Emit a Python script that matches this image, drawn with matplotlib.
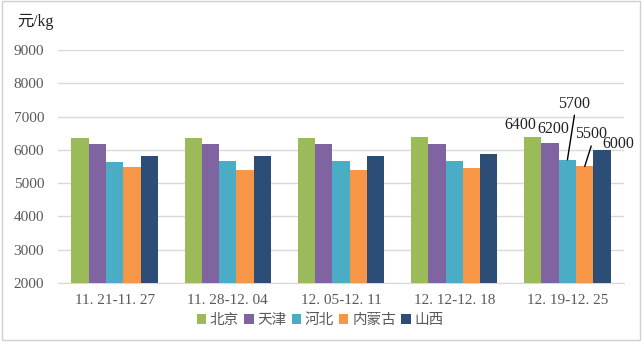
import matplotlib

matplotlib.use("Agg")
import matplotlib.pyplot as plt
import numpy as np
from matplotlib.patches import Rectangle

plt.rcParams["font.family"] = ["Liberation Serif", "Noto Sans CJK SC"]

weeks = ["11. 21-11. 27", "11. 28-12. 04", "12. 05-12. 11", "12. 12-12. 18", "12. 19-12. 25"]
regions = ["北京", "天津", "河北", "内蒙古", "山西"]
colors = ["#9BBB59", "#8064A2", "#4BACC6", "#F79646", "#2C4D75"]

beijing = [6360, 6360, 6350, 6390, 6400]
tianjin = [6180, 6180, 6180, 6180, 6200]
hebei = [5630, 5680, 5680, 5680, 5700]
neimenggu = [5480, 5400, 5390, 5440, 5500]
shanxi = [5830, 5830, 5830, 5880, 6000]
series = [beijing, tianjin, hebei, neimenggu, shanxi]

# label offsets (px) for the last week's bars, and whether a leader line is drawn
label_offsets = [(-12, 12, False), (3, 14, False), (7, 56, True), (6.5, 32, True), (16, 6, False)]

fig = plt.figure(figsize=(6.44, 3.46), dpi=100)
ax = fig.add_axes([58 / 644, 1 - 283 / 346, 566 / 644, 233 / 346])

x = np.arange(len(weeks))
width = 0.153
bars = []
for i, (vals, c, name) in enumerate(zip(series, colors, regions)):
    b = ax.bar(x + (i - 2) * width, vals, width, color=c, label=name, zorder=3)
    bars.append(b)

ax.set_ylim(2000, 9000)
ax.set_xlim(-0.5, len(weeks) - 0.5)
ax.set_yticks(range(2000, 9001, 1000))
ax.grid(axis="y", color="#D9D9D9", linewidth=1, zorder=0)
for s in ["left", "right", "top"]:
    ax.spines[s].set_visible(False)
ax.spines["bottom"].set_color("#D9D9D9")
ax.tick_params(axis="both", length=0, labelsize=11, colors="#595959")
ax.tick_params(axis="y", pad=10)
ax.tick_params(axis="x", pad=8)
ax.set_xticks(x)
ax.set_xticklabels(weeks)

px = 72 / fig.dpi
for bar_set, (dx, dy, leader) in zip(bars, label_offsets):
    rect = bar_set[-1]
    top = (rect.get_x() + rect.get_width() / 2, rect.get_height())
    ax.annotate(f"{rect.get_height():.0f}", xy=top,
                xytext=(dx * px, dy * px), textcoords="offset points",
                ha="center", va="center", fontsize=11.5, color="#222222")
    if leader:
        # leader line from just under the label down to the bar top
        ax.annotate("", xy=top, xytext=(dx * px, (dy - 11.5) * px),
                    textcoords="offset points",
                    arrowprops=dict(arrowstyle="-", color="black", lw=1,
                                    shrinkA=0, shrinkB=0))

fig.text(17 / 644, 1 - 22 / 346, "元/kg", fontsize=11.5, color="#222222",
         ha="left", va="center")

fig.legend(loc="center", bbox_to_anchor=(320 / 644, 1 - 320 / 346), ncol=5,
           frameon=False, fontsize=10.5, handlelength=0.65, handleheight=0.65,
           handletextpad=0.25, columnspacing=0.35, labelcolor="#595959")

fig.patches.append(Rectangle((2 / 644, 6 / 346), 638 / 644, 339 / 346,
                             transform=fig.transFigure, fill=False,
                             edgecolor="#D0D0D0", linewidth=1))

fig.savefig("out.png", dpi=100)
